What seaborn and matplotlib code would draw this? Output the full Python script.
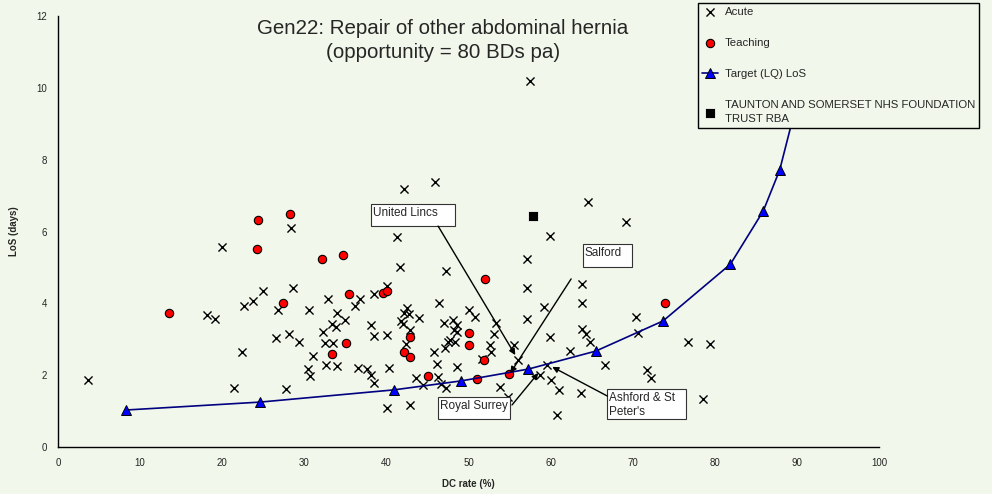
import numpy as np
import pandas as pd
import seaborn as sns
import matplotlib.pyplot as plt
from matplotlib.patches import Rectangle

# Acute trusts
acute_dc = [3.65, 20.0, 28.4, 25.0, 23.8, 22.7, 28.6, 18.1, 19.1, 26.8, 30.6, 26.6, 28.1, 29.4,
            22.4, 31.1, 30.5, 30.7, 21.4, 27.8, 32.9, 34.0, 32.3, 33.4, 33.9, 32.5, 33.5, 32.6,
            34.0, 42.1, 45.9, 41.3, 41.7, 47.3, 40.1, 36.8, 36.2, 38.5, 35.0, 38.1, 38.5, 40.1,
            42.5, 42.1, 42.8, 41.8, 44.0, 42.0, 42.9, 46.4, 47.0, 48.1, 48.6, 48.2, 48.6, 50.0,
            50.8, 53.3, 53.1, 52.6, 52.7, 51.6, 47.5, 48.4, 47.1, 45.8, 46.2, 48.6, 46.3, 46.6,
            47.3, 43.6, 44.5, 40.3, 36.5, 37.6, 38.1, 38.5, 40.1, 42.9, 53.8, 54.8, 55.5, 56.0,
            57.1, 57.1, 57.1, 59.9, 59.2, 59.9, 59.6, 60.0, 60.8, 58.7, 42.4, 47.7, 61.0, 63.8,
            63.8, 63.8, 64.3, 64.8, 62.4, 70.4, 70.6, 76.7, 66.6, 71.7, 72.2, 63.7, 64.6, 69.2,
            79.4, 78.6, 57.5]
acute_los = [1.87, 5.57, 6.10, 4.34, 4.07, 3.93, 4.43, 3.67, 3.56, 3.81, 3.81, 3.03, 3.15, 2.92,
             2.64, 2.53, 2.17, 1.98, 1.64, 1.61, 4.12, 3.73, 3.20, 3.42, 3.34, 2.90, 2.90, 2.28,
             2.26, 7.18, 7.38, 5.85, 5.01, 4.90, 4.48, 4.12, 3.93, 4.26, 3.54, 3.40, 3.09, 3.12,
             3.87, 3.73, 3.70, 3.51, 3.59, 3.42, 3.26, 4.00, 3.45, 3.54, 3.40, 3.26, 3.20, 3.81,
             3.62, 3.45, 3.15, 2.84, 2.64, 2.45, 2.92, 2.92, 2.76, 2.64, 2.31, 2.23, 1.95, 1.75,
             1.64, 1.92, 1.73, 2.20, 2.20, 2.17, 2.00, 1.78, 1.09, 1.17, 1.67, 1.39, 2.84, 2.42,
             5.23, 4.43, 3.56, 5.87, 3.90, 3.06, 2.28, 1.87, 0.89, 2.00, 2.87, 2.98, 1.59, 4.54,
             4.01, 3.29, 3.15, 2.92, 2.67, 3.62, 3.17, 2.92, 2.28, 2.14, 1.92, 1.50, 6.82, 6.26,
             2.87, 1.34, 10.18]

# Teaching trusts
teach_dc = [13.5, 24.4, 28.3, 24.2, 27.4, 32.1, 34.7, 35.4, 39.6, 40.1, 42.9, 42.1, 42.9,
            35.1, 33.4, 45.1, 50.0, 50.0, 51.9, 51.0, 54.9, 52.0, 73.9]
teach_los = [3.73, 6.32, 6.49, 5.51, 4.01, 5.23, 5.35, 4.26, 4.29, 4.34, 3.06, 2.64, 2.51,
             2.90, 2.59, 1.98, 3.17, 2.84, 2.42, 1.89, 2.03, 4.68, 4.00]

# Target (lower quartile) LoS curve
target_dc = [8.3, 24.6, 40.9, 49.1, 57.3, 65.5, 73.7, 81.9, 85.9, 87.9, 89.9, 92.5]
target_los = [1.03, 1.25, 1.59, 1.84, 2.17, 2.67, 3.51, 5.09, 6.57, 7.71, 9.5, 14.0]

# Highlighted trust
taunton_dc = [57.9]
taunton_los = [6.43]

# Callouts: label, box (x0, y0, x1, y1), arrow start, arrow tip
callout_labels = ["United Lincs", "Salford", "Royal Surrey", "Ashford & St\nPeter's"]
callout_boxes = [(38.1, 6.15, 48.4, 6.77), (63.9, 5.01, 69.9, 5.65),
                 (46.3, 0.78, 55.1, 1.39), (66.9, 0.78, 76.5, 1.61)]
callout_from = [(46.3, 6.15), (62.5, 4.68), (55.3, 1.17), (66.9, 1.42)]
callout_to = [(55.7, 2.56), (55.1, 2.06), (58.5, 2.06), (60.2, 2.23)]

bg = '#F1F7EA'
sns.set_theme(style='white', rc={'axes.facecolor': bg, 'figure.facecolor': bg})
plt.rcParams['font.family'] = ['Liberation Sans', 'DejaVu Sans']

fig = plt.figure(figsize=(9.92, 4.94), dpi=100)
ax = fig.add_axes([58 / 992, 47 / 494, 821 / 992, 431 / 494])

acute_df = pd.DataFrame({'dc': acute_dc, 'los': acute_los})
teach_df = pd.DataFrame({'dc': teach_dc, 'los': teach_los})
target_df = pd.DataFrame({'dc': target_dc, 'los': target_los})

sns.scatterplot(data=acute_df, x='dc', y='los', marker='x', color='black', s=34,
                linewidth=1.0, ax=ax, label='Acute', zorder=3)
sns.scatterplot(data=teach_df, x='dc', y='los', marker='o', color='#FF0000', s=36,
                edgecolor='black', linewidth=0.8, ax=ax, label='Teaching', zorder=4)
sns.lineplot(data=target_df, x='dc', y='los', color='#000080', linewidth=1.2, marker='^',
             markersize=6.5, markerfacecolor='#0000FF', markeredgecolor='black',
             markeredgewidth=0.7, ax=ax, label='Target (LQ) LoS', zorder=5, sort=False)
sns.scatterplot(x=taunton_dc, y=taunton_los, marker='s', color='black', s=50, ax=ax,
                label='TAUNTON AND SOMERSET NHS FOUNDATION\nTRUST RBA', zorder=6)

for lab, box, start, tip in zip(callout_labels, callout_boxes, callout_from, callout_to):
    x0, y0, x1, y1 = box
    ax.add_patch(Rectangle((x0, y0), x1 - x0, y1 - y0, facecolor='white',
                           edgecolor='#333333', linewidth=0.8, zorder=7))
    ax.text(x0 + 0.25, y1 - 0.08, lab, ha='left', va='top', fontsize=8.5, zorder=8,
            linespacing=1.25)
    ax.annotate('', xy=tip, xytext=start, zorder=7,
                arrowprops=dict(arrowstyle='-|>', color='black', lw=1.0,
                                mutation_scale=9, shrinkA=0, shrinkB=0))

ax.set_xlim(0, 100)
ax.set_ylim(0, 12)
ax.set_xticks(range(0, 101, 10))
ax.set_yticks(range(0, 13, 2))
ax.tick_params(axis='both', direction='out', length=4, width=1, labelsize=7,
               color='black', pad=4)
for side in ['top', 'right']:
    ax.spines[side].set_visible(False)
for side in ['left', 'bottom']:
    ax.spines[side].set_color('black')
    ax.spines[side].set_linewidth(1)
ax.set_xlabel('DC rate (%)', fontsize=7, fontweight='bold', labelpad=8)
ax.set_ylabel('LoS (days)', fontsize=7, fontweight='bold', labelpad=12)

fig.text(443 / 992, 1 - 19 / 494, 'Gen22: Repair of other abdominal hernia\n(opportunity = 80 BDs pa)',
         ha='center', va='top', fontsize=14.8, linespacing=1.32)

leg = ax.legend(loc='upper right', bbox_to_anchor=(979 / 992, 1 - 3 / 494),
                bbox_transform=fig.transFigure, fontsize=8.2, frameon=True, fancybox=False,
                labelspacing=1.85, handlelength=1.4, handletextpad=0.6, borderpad=0.35,
                borderaxespad=0)
leg.get_texts()[3].set_linespacing(1.45)
leg.get_frame().set_edgecolor('black')
leg.get_frame().set_facecolor(bg)
leg.get_frame().set_linewidth(1)
leg.get_frame().set_alpha(1)
leg.set_zorder(10)

fig.savefig('out.png', dpi=100, facecolor=bg)
